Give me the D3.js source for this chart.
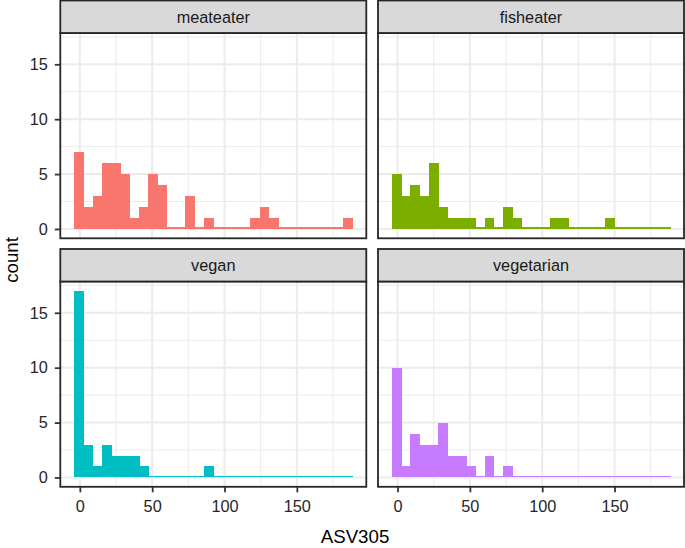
<!DOCTYPE html>
<html>
<head>
<meta charset="utf-8">
<script src="https://cdn.jsdelivr.net/npm/d3@7"></script>
<style>
  html, body { margin: 0; padding: 0; background: #fff; }
  svg { display: block; }
  text { font-family: "Liberation Sans", Arial, Helvetica, sans-serif; }
</style>
</head>
<body>
<svg id="chart" width="685" height="548"></svg>
<script>
// ---- data ----
const groups = ["meateater", "fisheater", "vegan", "vegetarian"];
const colors = ["#F8766D", "#7CAE00", "#00BFC4", "#C77CFF"];
const binStart = -3.9;
const binWidth = 6.41;
const countsMeateater  = [7,2,3,6,6,5,1,2,5,4,0,0,3,0,1,0,0,0,0,1,2,1,0,0,0,0,0,0,0,1];
const countsFisheater  = [5,3,4,3,6,2,1,1,1,0,1,0,2,1,0,0,0,1,1,0,0,0,0,1,0,0,0,0,0,0];
const countsVegan      = [17,3,1,3,2,2,2,1,0,0,0,0,0,0,1,0,0,0,0,0,0,0,0,0,0,0,0,0,0,0];
const countsVegetarian = [10,1,4,3,3,5,2,2,1,0,2,0,1,0,0,0,0,0,0,0,0,0,0,0,0,0,0,0,0,0];
const allCounts = [countsMeateater, countsFisheater, countsVegan, countsVegetarian];
const xTicks = [0, 50, 100, 150];
const xMinor = [25, 75, 125, 175];
const yTicks = [0, 5, 10, 15];
const yMinor = [2.5, 7.5, 12.5, 17.5];
const xTitle = "ASV305";
const yTitle = "count";

// ---- layout ----
const svg = d3.select("#chart");
const colX = [60.3, 378];
const panelW = 306;
const stripTop = [0.5, 249];
const stripH = 32.5;
const panelH = 205.3;
const border = "#262626";
const fontTick = 16.3;
const tickText = "#262626";

const nb = countsMeateater.length;
const lo = binStart, hi = binStart + nb * binWidth;
const padX = (hi - lo) * 0.05;
const maxC = d3.max(allCounts.flat());
const padY = maxC * 0.05;

groups.forEach((g, i) => {
  const col = i % 2, row = Math.floor(i / 2);
  const px = colX[col];
  const sTop = stripTop[row];
  const pTop = sTop + stripH;
  const x = d3.scaleLinear().domain([lo - padX, hi + padX]).range([px, px + panelW]);
  const y = d3.scaleLinear().domain([-padY, maxC + padY]).range([pTop + panelH, pTop]);

  const gp = svg.append("g");
  gp.append("rect").attr("x", px).attr("y", pTop).attr("width", panelW).attr("height", panelH)
    .attr("fill", "#fff");
  // minor grid
  gp.selectAll(".xmin").data(xMinor).join("line")
    .attr("x1", d => x(d)).attr("x2", d => x(d)).attr("y1", pTop).attr("y2", pTop + panelH)
    .attr("stroke", "#EBEBEB").attr("stroke-width", 1);
  gp.selectAll(".ymin").data(yMinor.filter(d => d <= maxC + padY)).join("line")
    .attr("x1", px).attr("x2", px + panelW).attr("y1", d => y(d)).attr("y2", d => y(d))
    .attr("stroke", "#EBEBEB").attr("stroke-width", 1);
  // major grid
  gp.selectAll(".xmaj").data(xTicks).join("line")
    .attr("x1", d => x(d)).attr("x2", d => x(d)).attr("y1", pTop).attr("y2", pTop + panelH)
    .attr("stroke", "#EBEBEB").attr("stroke-width", 2);
  gp.selectAll(".ymaj").data(yTicks).join("line")
    .attr("x1", px).attr("x2", px + panelW).attr("y1", d => y(d)).attr("y2", d => y(d))
    .attr("stroke", "#EBEBEB").attr("stroke-width", 2);

  // bars
  const data = allCounts[i].map((c, k) => ({ x0: binStart + k * binWidth, x1: binStart + (k + 1) * binWidth, c }));
  gp.append("g").attr("shape-rendering", "crispEdges")
    .selectAll(".bar").data(data).join("rect")
    .attr("x", d => x(d.x0))
    .attr("width", d => x(d.x1) - x(d.x0) + 0.5)
    .attr("y", d => Math.min(y(d.c), y(0) - 1.7))
    .attr("height", d => Math.max(y(0) - y(d.c), 1.7))
    .attr("fill", colors[i]);

  // panel border
  gp.append("rect").attr("x", px).attr("y", pTop).attr("width", panelW).attr("height", panelH)
    .attr("fill", "none").attr("stroke", border).attr("stroke-width", 1.8);

  // strip
  gp.append("rect").attr("x", px).attr("y", sTop).attr("width", panelW).attr("height", stripH)
    .attr("fill", "#D9D9D9").attr("stroke", border).attr("stroke-width", 1.8);
  gp.append("text").attr("x", px + panelW / 2).attr("y", sTop + stripH / 2 + 5.8)
    .attr("text-anchor", "middle").attr("font-size", fontTick).attr("fill", "#1A1A1A").text(g);

  // axes
  if (col === 0) {
    const ay = gp.append("g").attr("transform", `translate(${px},0)`)
      .call(d3.axisLeft(y).tickValues(yTicks).tickSize(5.5).tickPadding(7));
    ay.select(".domain").remove();
    ay.selectAll("line").attr("stroke", "#333").attr("stroke-width", 1.8);
    ay.selectAll("text").attr("font-size", fontTick).attr("fill", tickText)
      .style("font-family", '"Liberation Sans", Arial, Helvetica, sans-serif');
  }
  if (row === 1) {
    const ax = gp.append("g").attr("transform", `translate(0,${pTop + panelH})`)
      .call(d3.axisBottom(x).tickValues(xTicks).tickSize(5.5).tickPadding(8.5));
    ax.select(".domain").remove();
    ax.selectAll("line").attr("stroke", "#333").attr("stroke-width", 1.8);
    ax.selectAll("text").attr("font-size", fontTick).attr("fill", tickText)
      .style("font-family", '"Liberation Sans", Arial, Helvetica, sans-serif');
  }
});

// axis titles
svg.append("text").attr("x", 355).attr("y", 543.3).attr("text-anchor", "middle")
  .attr("font-size", 18.7).attr("fill", "#000").text(xTitle);
svg.append("text").attr("transform", "translate(18.3,260) rotate(-90)").attr("text-anchor", "middle")
  .attr("font-size", 18.7).attr("fill", "#000").text(yTitle);
</script>
</body>
</html>
